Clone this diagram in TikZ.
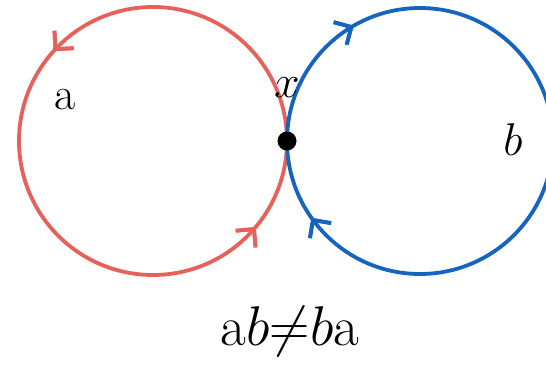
\RequirePackage{fix-cm}
\documentclass[tikz,border=0pt]{standalone}
\usetikzlibrary{arrows.meta,decorations.markings}
\definecolor{loopred}{HTML}{E8605A}
\definecolor{loopblue}{HTML}{1565C0}
\tikzset{
  looppath/.style={line width=3.8pt},
  lbl/.style={inner sep=0pt,font=\fontsize{46}{50}\selectfont},
  tipat/.style={postaction={decorate},decoration={markings,
    mark=at position #1 with {\arrow{Straight Barb[length=13pt,width=26pt]}}}},
  tipback/.style={postaction={decorate},decoration={markings,
    mark=at position #1 with {\arrowreversed{Straight Barb[length=13pt,width=26pt]}}}}
}

\begin{document}
\begin{tikzpicture}[x=1pt,y=1pt]
\useasboundingbox (0,0) rectangle (546,364);
\clip (0,0) rectangle (546,364);

% loop a, counterclockwise
\draw[looppath,loopred,tipat=0.383,tipat=0.889]
  (153,223) ++(0:134) arc[start angle=0,end angle=360,radius=134];

% loop b, clockwise
\draw[looppath,loopblue,tipback=0.333,tipback=0.598]
  (420,223) ++(0:133) arc[start angle=0,end angle=360,radius=133];

% base point
\node[circle,fill=black,inner sep=0pt,minimum size=19pt] (base) at (287,223) {};
\node[lbl] (xlab) at (287,276) {$x$};
\node[lbl] (alab) at (65,264) {a};
\node[lbl] (blab) at (513,224) {$b$};

\node[inner sep=0pt,font=\fontsize{56}{60}\selectfont] (rel) at (290,32) {a$b{\neq}b$a};
\end{tikzpicture}
\end{document}
